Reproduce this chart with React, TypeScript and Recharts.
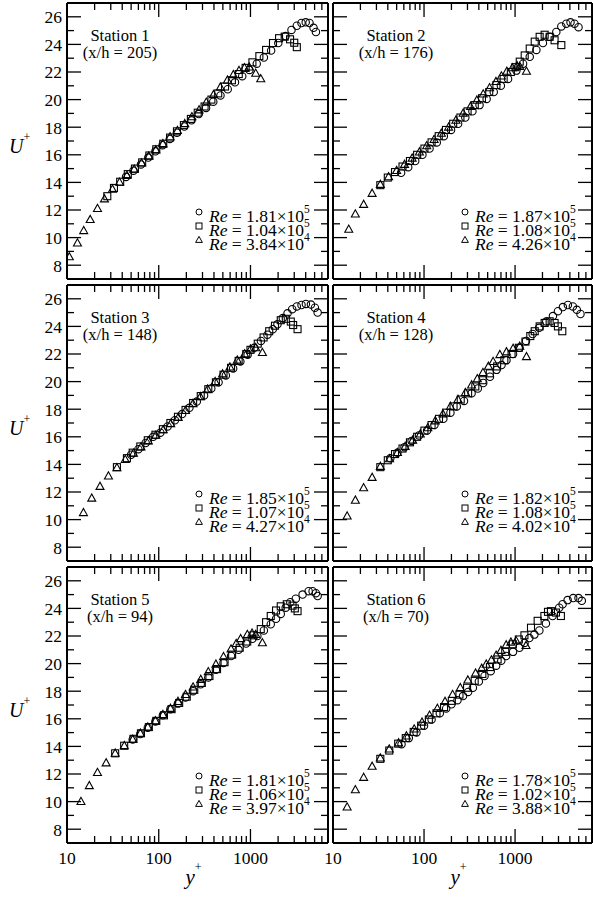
import React from 'react';
import { ScatterChart, Scatter, XAxis, YAxis } from 'recharts';

const FONT = "'Liberation Serif', 'Times New Roman', Times, serif";
const TXT: React.CSSProperties = { fontFamily: FONT };

// ---------- tick values ----------
const xMajorTicks = [10, 100, 1000];
const xMinorTicks = [20, 30, 40, 50, 60, 70, 80, 90, 200, 300, 400, 500, 600, 700, 800, 900, 2000, 3000, 4000, 5000, 6000];
const xAllTicks = [...xMajorTicks, ...xMinorTicks].sort((a, b) => a - b);
const yAllTicks = [8, 9, 10, 11, 12, 13, 14, 15, 16, 17, 18, 19, 20, 21, 22, 23, 24, 25, 26];
const xDomain = [10, 7000];
const yDomain = [7, 27];

// ---------- data: [y+, U+] ----------
// Station 1
const st1Circle: number[][] = [[44, 14.4], [53, 14.85], [64, 15.3], [77, 15.8], [92, 16.25], [110, 16.7], [132, 17.15], [158, 17.6], [190, 18.05], [228, 18.5], [273, 18.95], [328, 19.4], [393, 19.85], [471, 20.3], [565, 20.75], [678, 21.25], [813, 21.7], [975, 22.15], [1170, 22.6], [1400, 23.05], [1680, 23.55], [2010, 24.1], [2410, 24.6], [2800, 25.05], [3200, 25.35], [3600, 25.55], [4000, 25.6], [4400, 25.55], [4870, 25.2], [5170, 24.9]];
const st1Square: number[][] = [[27.5, 13.0], [32.5, 13.6], [38, 14.05], [46, 14.6], [55, 15.0], [66, 15.45], [79, 15.95], [94, 16.4], [112, 16.8], [133, 17.25], [158, 17.7], [188, 18.15], [224, 18.6], [266, 19.05], [316, 19.5], [375, 20.0], [445, 20.45], [528, 20.95], [627, 21.4], [745, 21.85], [885, 22.3], [1050, 22.7], [1250, 23.15], [1480, 23.6], [1760, 24.1], [2050, 24.45], [2360, 24.56], [2700, 24.37], [3000, 24.12], [3200, 23.8]];
const st1Tri: number[][] = [[10.6, 8.6], [13.0, 9.6], [15.2, 10.5], [17.9, 11.3], [21.5, 12.1], [25.6, 12.8], [31.3, 13.5], [37.4, 14.0], [45, 14.5], [54, 14.95], [65, 15.4], [78, 15.9], [93, 16.35], [111, 16.8], [133, 17.3], [160, 17.75], [192, 18.25], [230, 18.75], [275, 19.25], [330, 19.8], [395, 20.35], [470, 20.9], [560, 21.4], [650, 21.8], [750, 22.1], [860, 22.3], [970, 22.35], [1140, 21.9], [1294, 21.5]];
// Station 2
const st2Circle: number[][] = [[56, 14.7], [67, 15.1], [80, 15.55], [96, 16.0], [115, 16.45], [138, 16.9], [165, 17.35], [198, 17.8], [237, 18.25], [284, 18.7], [340, 19.15], [407, 19.6], [487, 20.05], [583, 20.55], [698, 21.0], [838, 21.5], [1035, 22.1], [1225, 22.6], [1449, 23.1], [1714, 23.6], [2024, 24.1], [2398, 24.55], [2838, 24.9], [3222, 25.3], [3651, 25.5], [4067, 25.6], [4498, 25.5], [4977, 25.25]];
const st2Square: number[][] = [[33.1, 13.8], [40, 14.35], [48, 14.75], [58, 15.15], [70, 15.55], [84, 16.0], [101, 16.45], [121, 16.9], [145, 17.35], [174, 17.8], [209, 18.25], [251, 18.7], [301, 19.15], [361, 19.6], [433, 20.1], [520, 20.55], [624, 21.05], [749, 21.5], [899, 22.0], [1010, 22.35], [1125, 22.75], [1276, 23.2], [1449, 23.7], [1644, 24.2], [1862, 24.55], [2113, 24.7], [2398, 24.55], [2718, 24.3], [3222, 23.95]];
const st2Tri: number[][] = [[14.9, 10.6], [17.6, 11.7], [21.7, 12.4], [26.9, 13.2], [33.1, 13.85], [40.8, 14.4], [50, 14.85], [61, 15.3], [74, 15.75], [89, 16.2], [107, 16.65], [129, 17.1], [155, 17.55], [186, 18.0], [224, 18.5], [269, 19.0], [324, 19.5], [380, 19.95], [447, 20.4], [525, 20.85], [617, 21.3], [708, 21.7], [813, 22.05], [933, 22.3], [1050, 22.45], [1125, 22.4], [1334, 22.05]];
// Station 3
const st3Circle: number[][] = [[50, 14.7], [60, 15.1], [72, 15.55], [87, 16.0], [104, 16.3], [125, 16.75], [150, 17.2], [180, 17.65], [216, 18.1], [260, 18.55], [312, 19.0], [374, 19.5], [449, 19.95], [539, 20.45], [647, 20.95], [776, 21.45], [931, 21.95], [1100, 22.45], [1300, 22.95], [1531, 23.4], [1750, 23.8], [1968, 24.15], [2250, 24.6], [2535, 24.95], [2850, 25.25], [3200, 25.45], [3600, 25.55], [4018, 25.63], [4560, 25.58], [5040, 25.35], [5397, 25.0]];
const st3Square: number[][] = [[35, 13.8], [45, 14.45], [52, 14.85], [63, 15.3], [76, 15.75], [92, 16.15], [111, 16.55], [134, 17.0], [162, 17.45], [196, 17.95], [237, 18.45], [287, 18.95], [347, 19.45], [420, 19.95], [508, 20.5], [614, 21.0], [743, 21.5], [899, 22.0], [1000, 22.3], [1200, 22.75], [1390, 23.2], [1600, 23.65], [1850, 24.05], [2138, 24.45], [2428, 24.55], [2752, 24.35], [2917, 24.1], [3260, 23.8]];
const st3Tri: number[][] = [[15.1, 10.5], [18.6, 11.55], [22.9, 12.4], [28.3, 13.15], [35, 13.75], [43.2, 14.35], [53, 14.8], [64, 15.25], [77, 15.7], [93, 16.1], [112, 16.5], [135, 16.95], [163, 17.4], [196, 17.9], [236, 18.4], [284, 18.9], [342, 19.45], [412, 20.0], [496, 20.55], [597, 21.05], [718, 21.55], [864, 22.0], [1000, 22.35], [1140, 22.45], [1349, 22.1]];
// Station 4
const st4Circle: number[][] = [[42.6, 14.45], [51, 14.85], [61, 15.25], [73, 15.7], [88, 16.1], [108, 16.45], [130, 16.85], [163, 17.3], [195, 17.75], [229, 18.2], [275, 18.6], [333, 19.15], [390, 19.5], [447, 19.9], [530, 20.35], [626, 20.85], [710, 21.2], [805, 21.55], [950, 22.0], [1120, 22.45], [1320, 22.95], [1560, 23.45], [1840, 23.9], [2200, 24.35], [2606, 24.75], [2958, 25.1], [3352, 25.4], [3802, 25.55], [4315, 25.45], [4770, 25.2], [5231, 24.9]];
const st4Square: number[][] = [[33.1, 13.8], [40, 14.3], [48, 14.75], [58, 15.15], [70, 15.6], [84, 16.0], [101, 16.45], [121, 16.85], [146, 17.3], [175, 17.75], [211, 18.2], [253, 18.7], [305, 19.15], [366, 19.65], [440, 20.1], [528, 20.6], [635, 21.1], [762, 21.55], [915, 22.0], [1100, 22.45], [1300, 22.9], [1470, 23.3], [1644, 23.65], [1862, 24.0], [2113, 24.25], [2398, 24.37], [2718, 24.25], [2958, 24.0], [3302, 23.65]];
const st4Tri: number[][] = [[14.3, 10.25], [17.6, 11.4], [21.7, 12.3], [26.9, 13.05], [33.1, 13.85], [41.8, 14.4], [51, 14.85], [62, 15.3], [75, 15.75], [91, 16.2], [110, 16.65], [133, 17.15], [161, 17.65], [195, 18.2], [236, 18.7], [285, 19.2], [333, 19.75], [385, 20.2], [444, 20.65], [510, 21.1], [574, 21.45], [681, 21.95], [805, 22.15], [951, 22.4], [1125, 22.55], [1334, 21.8]];
// Station 5
const st5Circle: number[][] = [[52, 14.5], [63, 14.9], [76, 15.35], [92, 15.8], [111, 16.25], [134, 16.7], [162, 17.1], [196, 17.55], [237, 18.0], [287, 18.5], [347, 19.0], [420, 19.55], [508, 20.05], [614, 20.55], [742, 21.0], [897, 21.45], [1050, 21.8], [1189, 22.0], [1400, 22.4], [1663, 22.85], [1900, 23.25], [2138, 23.6], [2420, 24.05], [2720, 24.45], [3119, 24.7], [3700, 25.0], [4303, 25.25], [4757, 25.25], [5166, 25.1], [5397, 24.9]];
const st5Square: number[][] = [[33.5, 13.5], [42, 14.05], [53, 14.55], [64, 14.95], [78, 15.4], [94, 15.85], [114, 16.25], [138, 16.7], [167, 17.15], [202, 17.6], [244, 18.1], [295, 18.6], [357, 19.1], [432, 19.6], [522, 20.1], [631, 20.65], [763, 21.15], [922, 21.6], [1080, 22.05], [1294, 22.5], [1480, 23.0], [1663, 23.45], [1900, 23.85], [2138, 24.15], [2489, 24.3], [2873, 24.2], [3045, 24.0], [3260, 23.8]];
const st5Tri: number[][] = [[14.2, 10.0], [17.5, 11.15], [21.5, 12.1], [26.7, 12.8], [33.5, 13.5], [42.1, 14.05], [52, 14.5], [63, 14.95], [76, 15.4], [92, 15.85], [111, 16.3], [134, 16.75], [162, 17.25], [196, 17.75], [237, 18.3], [287, 18.85], [347, 19.4], [420, 19.95], [508, 20.5], [614, 21.05], [700, 21.45], [781, 21.8], [925, 22.1], [1040, 22.2], [1140, 22.1], [1349, 21.5]];
// Station 6
const st6Circle: number[][] = [[56.6, 14.15], [68, 14.6], [82.6, 15.0], [100, 15.5], [121, 15.95], [149, 16.4], [175, 16.75], [200, 17.05], [233, 17.35], [268, 17.65], [305, 17.95], [344, 18.25], [400, 18.7], [462, 19.1], [540, 19.45], [620, 19.85], [705, 20.2], [798, 20.55], [950, 20.85], [1117, 21.15], [1270, 21.5], [1435, 21.85], [1630, 22.1], [1849, 22.4], [2183, 22.9], [2583, 23.45], [3055, 24.05], [3327, 24.3], [3778, 24.6], [4355, 24.75], [4977, 24.75], [5408, 24.55]];
const st6Square: number[][] = [[33.1, 13.1], [41.5, 13.7], [52, 14.2], [63, 14.6], [77, 15.05], [93, 15.5], [113, 15.95], [137, 16.4], [166, 16.85], [202, 17.3], [245, 17.75], [297, 18.25], [360, 18.75], [437, 19.25], [530, 19.75], [643, 20.3], [780, 20.85], [946, 21.4], [1100, 21.75], [1267, 22.05], [1496, 22.6], [1770, 23.1], [2099, 23.45], [2300, 23.75], [2477, 23.8], [2814, 23.7], [3187, 23.45]];
const st6Tri: number[][] = [[14.3, 9.6], [17.6, 10.85], [21.7, 11.75], [26.9, 12.55], [33.1, 13.15], [41.5, 13.8], [52.5, 14.25], [64, 14.75], [78, 15.25], [95, 15.75], [115, 16.25], [140, 16.75], [170, 17.25], [206, 17.75], [250, 18.25], [303, 18.8], [368, 19.3], [430, 19.65], [482, 19.95], [550, 20.25], [620, 20.6], [700, 20.95], [798, 21.35], [900, 21.55], [1026, 21.65], [1318, 21.3]];

// ---------- labels ----------
const stationNames = ['Station 1', 'Station 2', 'Station 3', 'Station 4', 'Station 5', 'Station 6'];
const stationXh = ['(x/h = 205)', '(x/h = 176)', '(x/h = 148)', '(x/h = 128)', '(x/h = 94)', '(x/h = 70)'];
const reMantissa = [
  ['1.81', '1.04', '3.84'],
  ['1.87', '1.08', '4.26'],
  ['1.85', '1.07', '4.27'],
  ['1.82', '1.08', '4.02'],
  ['1.81', '1.06', '3.97'],
  ['1.78', '1.02', '3.88'],
];
const reExponent = ['5', '5', '4'];

const circleSets = [st1Circle, st2Circle, st3Circle, st4Circle, st5Circle, st6Circle];
const squareSets = [st1Square, st2Square, st3Square, st4Square, st5Square, st6Square];
const triSets = [st1Tri, st2Tri, st3Tri, st4Tri, st5Tri, st6Tri];

// ---------- layout ----------
const COL_LEFT = [67, 333];
const COL_W = [261, 259];
const ROW_TOP = [3, 285, 567];
const PLOT_H = 276;
const WL = [67, 10];
const MT = 2, HT = 1, WR = 1, MR = 2, HB = 26;

const toPts = (a: number[][]) => a.map(([x, y]) => ({ x, y }));

const SW = 1.1;
const CircleShape = (p: any) =>
  p.cx == null ? <g /> : <circle cx={p.cx} cy={p.cy} r={3.7} fill="none" stroke="#000" strokeWidth={SW} />;
const SquareShape = (p: any) =>
  p.cx == null ? <g /> : <rect x={p.cx - 3.5} y={p.cy - 3.5} width={7} height={7} fill="none" stroke="#000" strokeWidth={SW} />;
const TriShape = (p: any) =>
  p.cx == null ? <g /> : (
    <polygon points={`${p.cx},${p.cy - 4.3} ${p.cx - 4},${p.cy + 2.9} ${p.cx + 4},${p.cy + 2.9}`} fill="none" stroke="#000" strokeWidth={SW} />
  );

const TW = 1.3;
const isXMajor = (v: number) => xMajorTicks.includes(v);

const BottomTick = (p: any) => {
  const { x, y, payload, showLabel } = p;
  const v = payload.value;
  const len = isXMajor(v) ? 14 : 7;
  return (
    <g>
      <line x1={x} x2={x} y1={y} y2={y - len} stroke="#000" strokeWidth={TW} />
      {showLabel && isXMajor(v) ? (
        <text x={x} y={y + 21} textAnchor="middle" fontSize={17.5} style={TXT} fill="#000">{v}</text>
      ) : null}
    </g>
  );
};
const TopTick = (p: any) => {
  const { x, y, payload } = p;
  const len = isXMajor(payload.value) ? 14 : 7;
  return <line x1={x} x2={x} y1={y} y2={y + len} stroke="#000" strokeWidth={TW} />;
};
const LeftTick = (p: any) => {
  const { x, y, payload, showLabel } = p;
  const v = payload.value;
  const major = v % 2 === 0;
  return (
    <g>
      <line x1={x} x2={x + (major ? 14 : 7)} y1={y} y2={y} stroke="#000" strokeWidth={TW} />
      {showLabel && major ? (
        <text x={x - 5} y={y} dy="0.36em" textAnchor="end" fontSize={17.5} style={TXT} fill="#000">{v}</text>
      ) : null}
    </g>
  );
};
const RightTick = (p: any) => {
  const { x, y, payload } = p;
  const major = payload.value % 2 === 0;
  return <line x1={x} x2={x - (major ? 14 : 7)} y1={y} y2={y} stroke="#000" strokeWidth={TW} />;
};

const axisLine = { stroke: '#000', strokeWidth: 2 };

function Panel({ idx }: { idx: number }) {
  const col = idx % 2;
  const row = Math.floor(idx / 2);
  const wl = WL[col];
  const width = wl + COL_W[col] + WR + MR;
  const height = MT + HT + PLOT_H + HB;
  const left = COL_LEFT[col] - wl;
  const top = ROW_TOP[row] - HT - MT;
  const bottomLabels = row === 2;
  const leftLabels = col === 0;
  return (
    <div style={{ position: 'absolute', left, top, width, height }}>
      <ScatterChart width={width} height={height} margin={{ top: MT, right: MR, bottom: 0, left: 0 }}>
        <XAxis xAxisId="b" dataKey="x" type="number" scale="log" domain={xDomain} allowDataOverflow
          ticks={xAllTicks} interval={0} orientation="bottom" height={HB} tickSize={0} tickMargin={0}
          axisLine={axisLine} tickLine={false}
          tick={(p: any) => <BottomTick {...p} showLabel={bottomLabels} />} />
        <XAxis xAxisId="t" dataKey="x" type="number" scale="log" domain={xDomain} allowDataOverflow
          ticks={xAllTicks} interval={0} orientation="top" height={HT} tickSize={0} tickMargin={0}
          axisLine={axisLine} tickLine={false}
          tick={(p: any) => <TopTick {...p} />} />
        <YAxis yAxisId="l" dataKey="y" type="number" domain={yDomain} allowDataOverflow
          ticks={yAllTicks} interval={0} orientation="left" width={wl} tickSize={0} tickMargin={0}
          axisLine={axisLine} tickLine={false}
          tick={(p: any) => <LeftTick {...p} showLabel={leftLabels} />} />
        <YAxis yAxisId="r" dataKey="y" type="number" domain={yDomain} allowDataOverflow
          ticks={yAllTicks} interval={0} orientation="right" width={WR} tickSize={0} tickMargin={0}
          axisLine={axisLine} tickLine={false}
          tick={(p: any) => <RightTick {...p} />} />
        <Scatter xAxisId="b" yAxisId="l" data={toPts(circleSets[idx])} shape={CircleShape} isAnimationActive={false} />
        <Scatter xAxisId="b" yAxisId="l" data={toPts(squareSets[idx])} shape={SquareShape} isAnimationActive={false} />
        <Scatter xAxisId="t" yAxisId="r" data={toPts(triSets[idx])} shape={TriShape} isAnimationActive={false} />
      </ScatterChart>
    </div>
  );
}

function Overlay() {
  const items: React.ReactNode[] = [];
  for (let idx = 0; idx < 6; idx++) {
    const col = idx % 2;
    const row = Math.floor(idx / 2);
    const pl = COL_LEFT[col];
    const pt = ROW_TOP[row];
    const pb = pt + PLOT_H;
    const cx = pl + (col === 0 ? 53 : 63);
    items.push(
      <text key={`s${idx}`} x={cx} y={pt + 38} textAnchor="middle" fontSize={16.5} style={TXT}>{stationNames[idx]}</text>,
      <text key={`h${idx}`} x={cx} y={pt + 55} textAnchor="middle" fontSize={16.5} style={TXT}>{stationXh[idx]}</text>
    );
    const offs = [-57, -43, -29];
    offs.forEach((o, k) => {
      const by = pb + o;
      const mx = pl + 132;
      const my = by - 10;
      let marker: React.ReactNode;
      if (k === 0) marker = <circle cx={mx} cy={my} r={3} fill="none" stroke="#000" strokeWidth={1} />;
      else if (k === 1) marker = <rect x={mx - 3} y={my - 3} width={6} height={6} fill="none" stroke="#000" strokeWidth={1} />;
      else marker = <polygon points={`${mx},${my - 3.6} ${mx - 3.4},${my + 2.4} ${mx + 3.4},${my + 2.4}`} fill="none" stroke="#000" strokeWidth={1} />;
      items.push(
        <g key={`l${idx}-${k}`}>
          {marker}
          <text x={pl + 142} y={by} fontSize={17.5} style={TXT}>
            <tspan fontStyle="italic">Re</tspan>
            <tspan>{` = ${reMantissa[idx][k]}×10`}</tspan>
            <tspan dy={-9} fontSize={11.5}>{reExponent[k]}</tspan>
          </text>
        </g>
      );
    });
  }
  for (let row = 0; row < 3; row++) {
    items.push(
      <text key={`u${row}`} x={9} y={ROW_TOP[row] + 150} fontSize={20} style={TXT}>
        <tspan fontStyle="italic">U</tspan>
        <tspan dy={-12} fontSize={12}>+</tspan>
      </text>
    );
  }
  for (let col = 0; col < 2; col++) {
    items.push(
      <text key={`y${col}`} x={COL_LEFT[col] + COL_W[col] / 2 - 12} y={884} fontSize={21} style={TXT}>
        <tspan fontStyle="italic">y</tspan>
        <tspan dy={-13} fontSize={12}>+</tspan>
      </text>
    );
  }
  return (
    <svg width={593} height={899} style={{ position: 'absolute', left: 0, top: 0, pointerEvents: 'none', fontFamily: FONT }}>
      {items}
    </svg>
  );
}

export default function App() {
  return (
    <div style={{ position: 'absolute', left: 0, top: 0, width: 593, height: 899, background: '#fff', overflow: 'hidden', fontFamily: FONT }}>
      {[0, 1, 2, 3, 4, 5].map((i) => <Panel key={i} idx={i} />)}
      <Overlay />
    </div>
  );
}
